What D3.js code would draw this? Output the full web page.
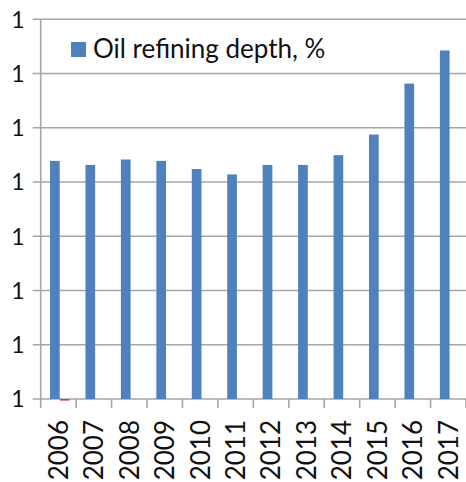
<!DOCTYPE html>
<html>
<head>
<meta charset="utf-8">
<script src="https://cdn.jsdelivr.net/npm/d3@7"></script>
<style>
  html, body { margin: 0; padding: 0; background: #fff; }
  svg { display: block; }
</style>
</head>
<body>
<script>
// Oil refining depth by year (share), plus a second, near-empty series
const years = ["2006","2007","2008","2009","2010","2011","2012","2013","2014","2015","2016","2017"];
const refiningDepth = [0.7478, 0.7463, 0.7483, 0.7478, 0.7448, 0.7428, 0.7463, 0.7463, 0.7499, 0.7575, 0.7763, 0.7885];
const secondSeries = [0.6594, 0.66, 0.66, 0.66, 0.66, 0.66, 0.66, 0.66, 0.66, 0.66, 0.66, 0.66];
const seriesNames = ["Oil refining depth, %", "other"];
const yTicks = [0.66, 0.68, 0.70, 0.72, 0.74, 0.76, 0.78, 0.80];

const W = 466, H = 482;
const margin = { top: 19.3, right: 0, bottom: 83, left: 40.7 };
const font = "Lato, 'Open Sans', sans-serif";

const svg = d3.select("body").append("svg").attr("width", W).attr("height", H);

const x0 = d3.scaleBand().domain(years).range([margin.left, W - margin.right]).padding(0);
const x1 = d3.scaleBand().domain(seriesNames).range([0, x0.bandwidth()])
  .paddingInner(0).paddingOuter(0.83).align(0.58);
const y = d3.scaleLinear().domain([0.66, 0.80]).range([H - margin.bottom, margin.top]);

const grid = "#a6a6a6";

// horizontal gridlines
svg.append("g").selectAll("line").data(yTicks).join("line")
  .attr("x1", margin.left - 8).attr("x2", W)
  .attr("y1", d => y(d)).attr("y2", d => y(d))
  .attr("stroke", grid).attr("stroke-width", 1.6);

// y axis line
svg.append("line")
  .attr("x1", margin.left).attr("x2", margin.left)
  .attr("y1", y(0.80)).attr("y2", y(0.66) + 9)
  .attr("stroke", grid).attr("stroke-width", 1.6);

// x ticks at category boundaries
const bounds = years.map(d => x0(d)).concat([x0(years[years.length - 1]) + x0.bandwidth()]);
svg.append("g").selectAll("line").data(bounds.slice(1)).join("line")
  .attr("x1", d => d).attr("x2", d => d)
  .attr("y1", y(0.66)).attr("y2", y(0.66) + 9)
  .attr("stroke", grid).attr("stroke-width", 1.6);

// bars
const colors = ["#4f81bd", "#c0504d"];
const rows = years.map((yr, i) => ({ yr, vals: [refiningDepth[i], secondSeries[i]] }));
const base = y(0.66);
svg.append("g").selectAll("g").data(rows).join("g")
  .attr("transform", d => `translate(${x0(d.yr)},0)`)
  .selectAll("rect").data(d => d.vals.map((v, k) => ({ v, k })))
  .join("rect")
  .attr("x", d => x1(seriesNames[d.k]))
  .attr("width", x1.bandwidth())
  .attr("y", d => Math.min(y(d.v), base))
  .attr("height", d => Math.abs(y(d.v) - base))
  .attr("fill", d => colors[d.k]);

// y tick labels
const fmt = d3.format(".0f");
svg.append("g").selectAll("text").data(yTicks).join("text")
  .attr("x", 24.5).attr("y", d => y(d))
  .attr("dy", "0.36em")
  .attr("text-anchor", "end")
  .attr("font-family", font).attr("font-size", 23)
  .attr("fill", "#111")
  .text(d => fmt(d));

// x labels, rotated
svg.append("g").selectAll("text").data(years).join("text")
  .attr("transform", d => `translate(${x0(d) + x0.bandwidth() / 2},${base + 21}) rotate(-90)`)
  .attr("dy", "0.36em")
  .attr("text-anchor", "end")
  .attr("font-family", font).attr("font-size", 26)
  .attr("fill", "#111")
  .text(d => d);

// legend
const lg = svg.append("g");
lg.append("rect").attr("x", 71).attr("y", 42).attr("width", 15).attr("height", 15).attr("fill", colors[0]);
lg.append("text").attr("x", 93).attr("y", 58)
  .attr("font-family", font).attr("font-size", 26).attr("fill", "#111")
  .text(seriesNames[0]);
</script>
</body>
</html>
